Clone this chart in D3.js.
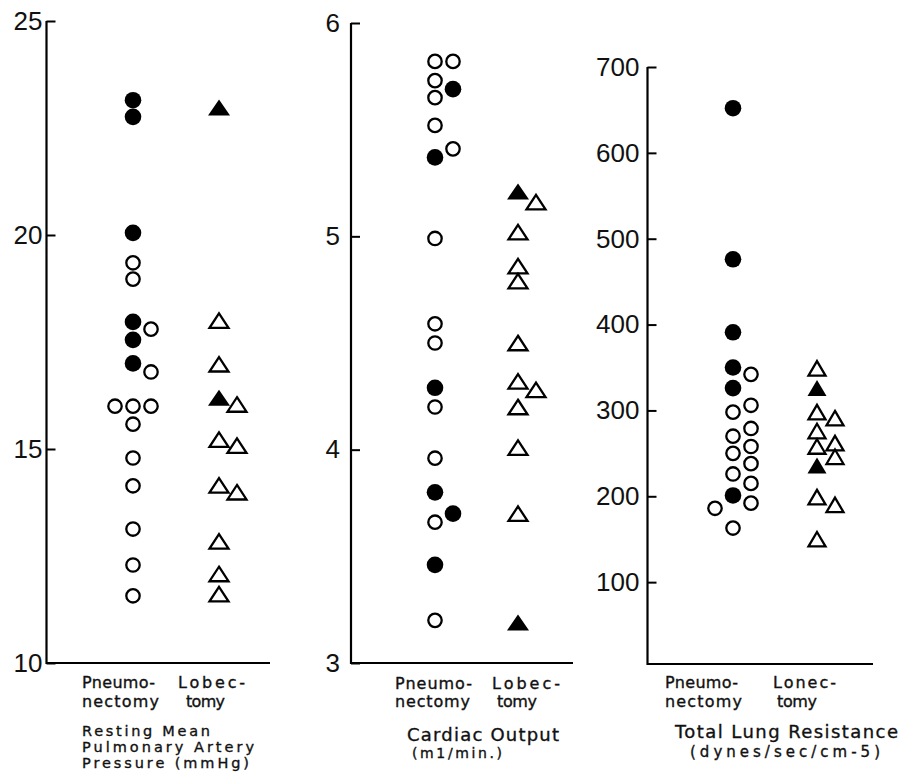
<!DOCTYPE html>
<html><head><meta charset="utf-8">
<script src="https://cdn.jsdelivr.net/npm/d3@7"></script>
<style>body{margin:0;background:#fff}</style>
</head><body>
<svg id="c" width="903" height="784"></svg>
<script>
// ---------- DATA ----------
const groups = ["Pneumonectomy", "Lobectomy"];
// each point: [value, filled (1 = closed symbol), column slot]
const pressurePneumo = [[23.15,1,0],[22.76,1,0],[20.05,1,0],[19.35,0,0],[18.97,0,0],[17.97,1,0],[17.8,0,1],[17.55,1,0],[17.0,1,0],[16.8,0,1],[16.0,0,-1],[16.0,0,0],[16.0,0,1],[15.58,0,0],[14.79,0,0],[14.14,0,0],[13.13,0,0],[12.29,0,0],[11.57,0,0]];
const pressureLobec = [[22.98,1,0],[18.0,0,0],[16.98,0,0],[16.2,1,0],[16.04,0,1],[15.22,0,0],[15.08,0,1],[14.15,0,0],[13.99,0,1],[12.84,0,0],[12.08,0,0],[11.61,0,0]];
const outputPneumo = [[5.82,0,0],[5.82,0,1],[5.73,0,0],[5.69,1,1],[5.65,0,0],[5.52,0,0],[5.41,0,1],[5.37,1,0],[4.99,0,0],[4.59,0,0],[4.50,0,0],[4.29,1,0],[4.20,0,0],[3.96,0,0],[3.80,1,0],[3.70,1,1],[3.66,0,0],[3.46,1,0],[3.20,0,0]];
const outputLobec = [[5.21,1,0],[5.16,0,1],[5.02,0,0],[4.86,0,0],[4.79,0,0],[4.50,0,0],[4.32,0,0],[4.28,0,1],[4.20,0,0],[4.01,0,0],[3.70,0,0],[3.19,1,0]];
const resistPneumo = [[652,1,0],[476,1,0],[391,1,0],[350,1,0],[342,0,1],[326,1,0],[306,0,1],[298,0,0],[279,0,1],[270,0,0],[258,0,1],[250,0,0],[238,0,1],[226,0,0],[215,0,1],[201,1,0],[192,0,1],[186,0,-1],[163,0,0]];
const resistLobec = [[349,0,0],[326,1,0],[298,0,0],[291,0,1],[276,0,0],[262,0,1],[258,0,0],[246,0,1],[236,1,0],[199,0,0],[190,0,1],[150,0,0]];

const pressureTicks = [10, 15, 20, 25];
const outputTicks = [3, 4, 5, 6];
const resistTicks = [100, 200, 300, 400, 500, 600, 700];

const groupLabelTop = [["Pneumo-", "Lobec-"], ["Pneumo-", "Lobec-"], ["Pneumo-", "Lonec-"]];
const groupLabelBottom = [["nectomy", "tomy"], ["nectomy", "tomy"], ["nectomy", "tomy"]];
const titles = [
  ["Resting Mean", "Pulmonary Artery", "Pressure (mmHg)"],
  ["Cardiac Output", "(m1/min.)"],
  ["Total Lung Resistance", "(dynes/sec/cm-5)"]
];

// ---------- LAYOUT ----------
const panels = [
  { series: [pressurePneumo, pressureLobec], ticks: pressureTicks, domain: [10, 25], range: [663, 21],
    axisX: 46.5, yTop: 21, yBottom: 663, xEnd: 270, cols: [133, 219], pad: 4,
    top: [[82, 73], [178, 67]], bot: [[82, 77], [186, 39]], grpY: [688, 707],
    tl: [{x:82,y:736,w:128,fs:14.5},{x:82,y:752,w:172,fs:14.5},{x:82,y:768,w:167,fs:14.5}] },
  { series: [outputPneumo, outputLobec], ticks: outputTicks, domain: [3, 6], range: [663, 23],
    axisX: 351, yTop: 23, yBottom: 663, xEnd: 573, cols: [435, 518], pad: 11,
    top: [[395, 77], [492, 68]], bot: [[395, 75], [497, 40]], grpY: [689, 707],
    tl: [{x:407,y:741,w:152,fs:18},{x:412,y:758,w:90,fs:14}] },
  { series: [resistPneumo, resistLobec], ticks: resistTicks, domain: [0, 700], range: [668, 67],
    axisX: 647.5, yTop: 67, yBottom: 664, xEnd: 873, cols: [733, 817], pad: 8,
    top: [[665, 73], [773, 63]], bot: [[665, 77], [777, 40]], grpY: [688, 707],
    tl: [{x:675,y:738,w:223,fs:18},{x:690,y:757,w:190,fs:15}] }
];

const svg = d3.select("#c");
const TICKFONT = "'Liberation Sans', Arial, sans-serif";
const LABFONT = "'DejaVu Sans', Verdana, sans-serif";
const slot = d3.scaleLinear().domain([-1, 1]).range([-18, 18]);

function tri(w, h) {
  return `M0,${-h/2}L${w/2},${h/2}L${-w/2},${h/2}Z`;
}

panels.forEach((p, pi) => {
  const g = svg.append("g");
  const y = d3.scaleLinear().domain(p.domain).range(p.range);
  const x = d3.scalePoint().domain(groups).range(p.cols);

  // ticks and labels
  const ax = g.append("g").attr("transform", `translate(${p.axisX},0)`)
    .call(d3.axisLeft(y).tickValues(p.ticks).tickFormat(d3.format("d"))
      .tickSize(-9).tickSizeOuter(0).tickPadding(p.pad));
  ax.select(".domain").remove();
  ax.selectAll(".tick line").attr("stroke", "#000").attr("stroke-width", 2);
  ax.selectAll(".tick text").attr("font-size", 26).attr("font-family", TICKFONT).attr("fill", "#111");

  // L-shaped frame
  g.append("path")
    .attr("d", `M${p.axisX},${p.yTop}V${p.yBottom}H${p.xEnd}`)
    .attr("fill", "none").attr("stroke", "#000").attr("stroke-width", 2.2);

  // points
  p.series.forEach((s, si) => {
    const gx = x(groups[si]);
    s.forEach(d => {
      const cx = gx + slot(d[2]), cy = y(d[0]);
      if (si === 0) {
        if (d[1]) g.append("circle").attr("cx", cx).attr("cy", cy).attr("r", 8.3).attr("fill", "#000");
        else g.append("circle").attr("cx", cx).attr("cy", cy).attr("r", 6.7)
               .attr("fill", "#fff").attr("stroke", "#000").attr("stroke-width", 2.3);
      } else {
        const narrow = pi === 2;
        if (d[1]) g.append("path").attr("d", tri(narrow ? 19 : 22, 16))
               .attr("transform", `translate(${cx},${cy})`).attr("fill", "#000");
        else g.append("path").attr("d", tri(narrow ? 17 : 19, 14.5))
               .attr("transform", `translate(${cx},${cy})`)
               .attr("fill", "#fff").attr("stroke", "#000").attr("stroke-width", 2.3)
               .attr("stroke-linejoin", "miter");
      }
    });
  });

  // group labels
  const lab = (xx, yy, t, w, fs) => g.append("text").attr("x", xx).attr("y", yy).text(t)
      .attr("font-size", fs).attr("font-family", LABFONT).attr("fill", "#111")
      .attr("stroke", "#111").attr("stroke-width", 0.35)
      .attr("textLength", w).attr("lengthAdjust", "spacing");
  groupLabelTop[pi].forEach((t, i) => lab(p.top[i][0], p.grpY[0], t, p.top[i][1], 16));
  groupLabelBottom[pi].forEach((t, i) => lab(p.bot[i][0], p.grpY[1], t, p.bot[i][1], 16));
  titles[pi].forEach((t, i) => { const L = p.tl[i]; lab(L.x, L.y, t, L.w, L.fs); });
});
</script>
</body></html>
